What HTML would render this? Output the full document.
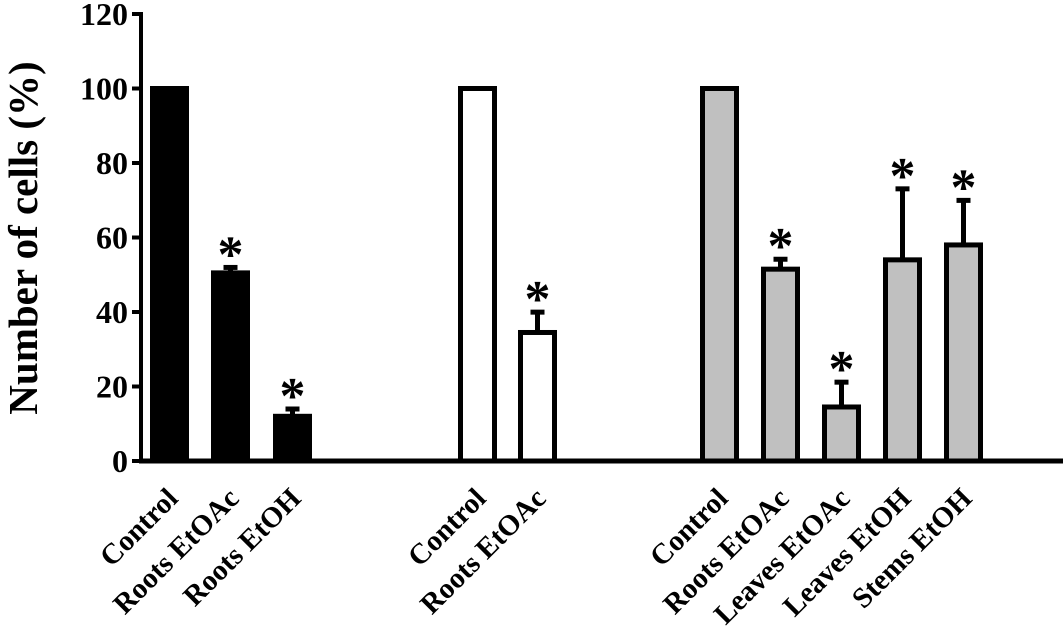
<!DOCTYPE html>
<html><head><meta charset="utf-8"><style>
body{margin:0;background:#fff}
svg text{font-family:"Liberation Serif",serif;font-weight:bold;fill:#000}
</style></head><body>
<svg id="chart" width="1063" height="638" viewBox="0 0 1063 638" xmlns="http://www.w3.org/2000/svg">
<g id="marks"></g>
<text transform="translate(37,238) rotate(-90)" text-anchor="middle" font-size="41">Number of cells (%)</text>
</svg>
<script>
const categories=["Control","Roots EtOAc","Roots EtOH","Control","Roots EtOAc","Control","Roots EtOAc","Leaves EtOAc","Leaves EtOH","Stems EtOH"];
const values=[100,50.5,12,100,34.5,100,51.5,14.5,54,58];
const errors=[0,2,2.5,0,6,0,3.2,7.2,19.6,12.5];
const significant=[0,1,1,0,1,0,1,1,1,1];
const groups=[0,0,0,1,1,2,2,2,2,2];
const yTicks=[0,20,40,60,80,100,120];
const barLeft=[150,211,273,458,518,700,761,822,883,944];
const fills=["#000","#fff","#c0c0c0"];
const NS="http://www.w3.org/2000/svg";
const g=document.getElementById('marks');
const y=v=>461-v*3.725;
function mk(t,a){const e=document.createElementNS(NS,t);for(const k in a)e.setAttribute(k,a[k]);g.appendChild(e);return e;}
yTicks.forEach(t=>{
 const tk=mk('line',{x1:132,x2:141,y1:y(t),y2:y(t),stroke:'#000','stroke-width':4});
 
 
 const tx=mk('text',{x:128,y:y(t)+11,'text-anchor':'end','font-size':32});
 tx.textContent=t;
 
 
});
categories.forEach((c,i)=>{
 const x=barLeft[i],w=39,cx=x+w/2,top=y(values[i]);
 if(errors[i]>0){
  const et=y(values[i]+errors[i]);
  const el=mk('line',{x1:cx,x2:cx,y1:top,y2:et,stroke:'#000','stroke-width':5});
  
  
  const cap=mk('line',{x1:cx-7,x2:cx+7,y1:et+2,y2:et+2,stroke:'#000','stroke-width':5});
  
  
 }
 const r=mk('rect',{x:x+2.5,y:top,width:w-5,height:461-top,fill:fills[groups[i]],stroke:'#000','stroke-width':5});
 
 
 if(significant[i]){
  const s=mk('text',{x:cx,y:y(values[i]+errors[i])+6,'text-anchor':'middle','font-size':52});
  s.textContent='*';
  
  
 }
 const l=mk('text',{transform:`translate(${cx+10},${500}) rotate(-45)`,'text-anchor':'end','font-size':29});
 l.textContent=c;
 
 
});
const ya=mk('line',{x1:141,x2:141,y1:12,y2:463,stroke:'#000','stroke-width':4});


const xa=mk('line',{x1:139,x2:1063,y1:461,y2:461,stroke:'#000','stroke-width':5});


</script>
</body></html>
